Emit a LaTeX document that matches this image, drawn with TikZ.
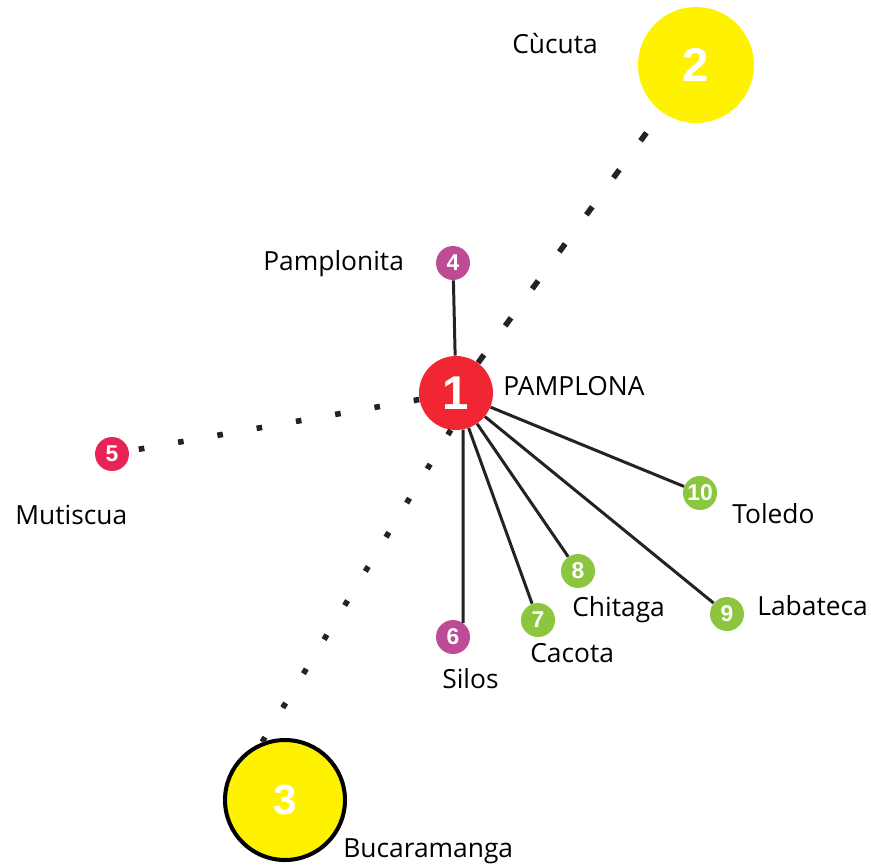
\documentclass[tikz,border=0pt]{standalone}
\usepackage{fontspec}
\setmainfont{Open Sans}
\newfontfamily\numfont{Liberation Sans}
\definecolor{rojo}{RGB}{240,38,50}
\definecolor{rosa}{RGB}{232,35,85}
\definecolor{morado}{RGB}{190,75,150}
\definecolor{verde}{RGB}{140,198,63}
\definecolor{amarillo}{RGB}{255,242,0}
\definecolor{linea}{RGB}{35,35,35}
\begin{document}
\begin{tikzpicture}[x=0.02cm,y=-0.02cm,
		city/.style={circle,inner sep=0pt,text=white,font=\numfont\bfseries\fontsize{27}{27}\selectfont},
		town/.style={circle,inner sep=0pt,minimum size=0.68cm,text=white,font=\numfont\bfseries\fontsize{13}{13}\selectfont},
		lab/.style={anchor=base west,inner sep=0pt,font=\fontsize{15}{17}\selectfont},
		road/.style={line width=1.7pt,draw=linea},
		dots/.style={line width=3.2pt,draw=linea,dash pattern=on 3.2pt off 19.5pt},
		dashes/.style={line width=3.2pt,draw=linea,dash pattern=on 5.7pt off 20.4pt}]
	\useasboundingbox (0,0) rectangle (871,867);
	% main cities
	\node[city,fill=rojo,minimum size=1.48cm] (n1) at (456,393) {1};
	\node[city,fill=amarillo,minimum size=2.32cm] (n2) at (696,65) {2};
	\node[city,fill=amarillo,draw=black,line width=2.3pt,minimum size=2.4cm,font=\numfont\bfseries\fontsize{24}{24}\selectfont] (n3) at (285,800) {3};
	% towns
	\node[town,fill=morado] (n4) at (453,263) {4};
	\node[town,fill=rosa] (n5) at (112,454) {5};
	\node[town,fill=morado] (n6) at (453,637) {6};
	\node[town,fill=verde] (n7) at (538,620) {7};
	\node[town,fill=verde] (n8) at (578,571) {8};
	\node[town,fill=verde] (n9) at (727,614) {9};
	\node[town,fill=verde] (n10) at (700,493) {10};
	% roads
	\draw[dashes,shorten >=0.36cm] (n1) -- (n2);
	\draw[dots] (n1.262) -- (n3.112);
	\draw[dots] (n1) -- (n5);
	\draw[road] (n1) -- (n4);
	\draw[road] (n1.-79) -- (n6.54);
	\draw[road] (n1) -- (n7);
	\draw[road] (n1) -- (n8);
	\draw[road] (n1) -- (n9);
	\draw[road] (n1) -- (n10);
	% names
	\node[lab] (l1) at (503,395) {PAMPLONA};
	\node[lab] (l2) at (512,53) {Cùcuta};
	\node[lab] (l3) at (343,857) {Bucaramanga};
	\node[lab] (l4) at (263,270) {Pamplonita};
	\node[lab] (l5) at (15,524) {Mutiscua};
	\node[lab] (l6) at (442,688) {Silos};
	\node[lab] (l7) at (530,662) {Cacota};
	\node[lab] (l8) at (572,616) {Chitaga};
	\node[lab] (l9) at (757,615) {Labateca};
	\node[lab] (l10) at (732,523) {Toledo};
\end{tikzpicture}
\end{document}
